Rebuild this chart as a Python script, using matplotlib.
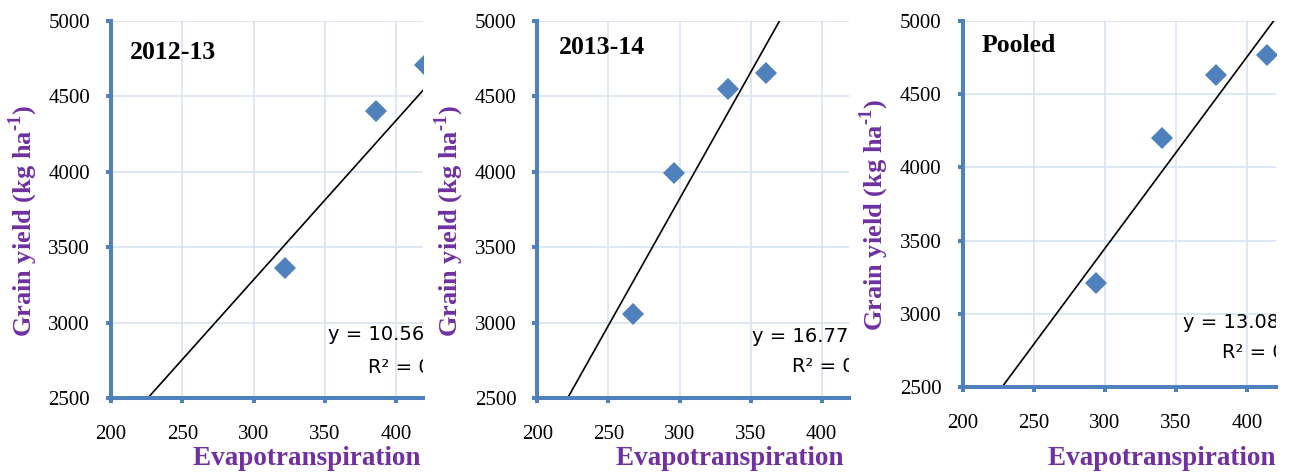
import numpy as np
import matplotlib
matplotlib.use('Agg')
import matplotlib.pyplot as plt
from matplotlib.transforms import Bbox, TransformedBbox

plt.rcParams['font.family'] = 'Liberation Serif'
plt.rcParams['mathtext.fontset'] = 'custom'
plt.rcParams['mathtext.rm'] = 'Liberation Serif:bold'
plt.rcParams['mathtext.bf'] = 'Liberation Serif:bold'

# evapotranspiration (mm) vs grain yield (kg/ha)
et_2012 = [322, 386, 420]
gy_2012 = [3362, 4402, 4707]
et_2013 = [267, 296, 334, 361]
gy_2013 = [3057, 3989, 4545, 4655]
et_pool = [294, 340, 378, 414]
gy_pool = [3209, 4198, 4630, 4766]

# linear trendlines (slope, intercept)
fit_2012 = (10.56, 115)
fit_2013 = (16.77, -1212)
fit_pool = (13.08, -476)

titles = ['2012-13', '2013-14', 'Pooled']
x_ticks = [200, 250, 300, 350, 400]
y_ticks = [2500, 3000, 3500, 4000, 4500, 5000]

BLUE = '#4F81BD'
PURPLE = '#7030A0'
GRID = '#D9E3F1'

W, H = 1289, 473
fig = plt.figure(figsize=(W / 100, H / 100), dpi=100)

# axes boxes in pixels: left, right, top, bottom
boxes = [(111, 423, 20.7, 398), (537.3, 849.3, 20.7, 398), (962.7, 1276, 20.7, 387.3)]
x_right = [418.9, 419.4, 420.2]
title_pos = [(0.061, 0.898), (0.0705, 0.911), (0.061, 0.915)]
eq_pos = [((352.2, 2884), (380.5, 2666)),
          ((350.8, 2873), (379, 2674)),
          ((354.5, 2902), (382, 2698))]
xlab_pos = [(0.263, -0.1776), (0.252, -0.1776), (0.272, -0.212)]

data = [(et_2012, gy_2012, fit_2012), (et_2013, gy_2013, fit_2013), (et_pool, gy_pool, fit_pool)]

for i, (et, gy, (m, b)) in enumerate(data):
    l, r, t, bt = boxes[i]
    ax = fig.add_axes([l / W, 1 - bt / H, (r - l) / W, (bt - t) / H])
    ax.set_xlim(200, x_right[i])
    ax.set_ylim(2500, 5000)
    ax.set_xticks(x_ticks)
    ax.set_yticks(y_ticks)
    ax.set_xticklabels([str(v) for v in x_ticks], family='Liberation Serif')
    ax.set_yticklabels([str(v) for v in y_ticks], family='Liberation Serif')
    ax.grid(True, color=GRID, linewidth=1.2)
    ax.set_axisbelow(True)
    for s in ['top', 'right']:
        ax.spines[s].set_visible(False)
    for s in ['left', 'bottom']:
        ax.spines[s].set_color(BLUE)
        ax.spines[s].set_linewidth(2.9)
        ax.spines[s].set_zorder(3)
    ax.tick_params(axis='both', direction='out', length=3.6, width=2.9,
                   color=BLUE, labelsize=15, labelcolor='black')
    ax.tick_params(axis='x', pad=15.5)
    ax.tick_params(axis='y', pad=11.5)

    xs = np.array([200, x_right[i]])
    ax.plot(xs, m * xs + b, color='black', linewidth=1.2, zorder=2)
    ax.plot(et, gy, 'D', color=BLUE, markersize=11, markeredgewidth=0, zorder=4)

    pred = m * np.array(et) + b
    r2 = 1 - np.sum((np.array(gy) - pred) ** 2) / np.sum((np.array(gy) - np.mean(gy)) ** 2)
    sign = '+' if b >= 0 else '-'
    (ex1, ey1), (ex2, ey2) = eq_pos[i]
    ax.text(ex1, ey1, f'y = {m:.2f}x {sign} {abs(b):.0f}', family='DejaVu Sans',
            fontsize=14, clip_on=True, zorder=5)
    ax.text(ex2, ey2, f'R² = {r2:.2f}', family='DejaVu Sans', fontsize=14,
            clip_on=True, zorder=5)

    tx, ty = title_pos[i]
    ax.text(tx, ty, titles[i], transform=ax.transAxes, fontsize=18.5,
            fontweight='bold', va='baseline')

    ax.text(-88 / (r - l), 0.47, r'Grain yield (kg ha$^{\text{-}\mathbf{1}}$)',
            transform=ax.transAxes, rotation=90, ha='center', va='center',
            fontsize=19, fontweight='bold', color=PURPLE)

    lx, ly = xlab_pos[i]
    xl = ax.text(lx, ly, 'Evapotranspiration (mm)', transform=ax.transAxes,
                 fontsize=19.5, fontweight='bold', color=PURPLE,
                 va='baseline', clip_on=True)
    xl.set_clip_path(None)
    xl.set_clip_box(TransformedBbox(Bbox([[-1, -1], [1, 2]]), ax.transAxes))

fig.savefig('out.png', dpi=100)
